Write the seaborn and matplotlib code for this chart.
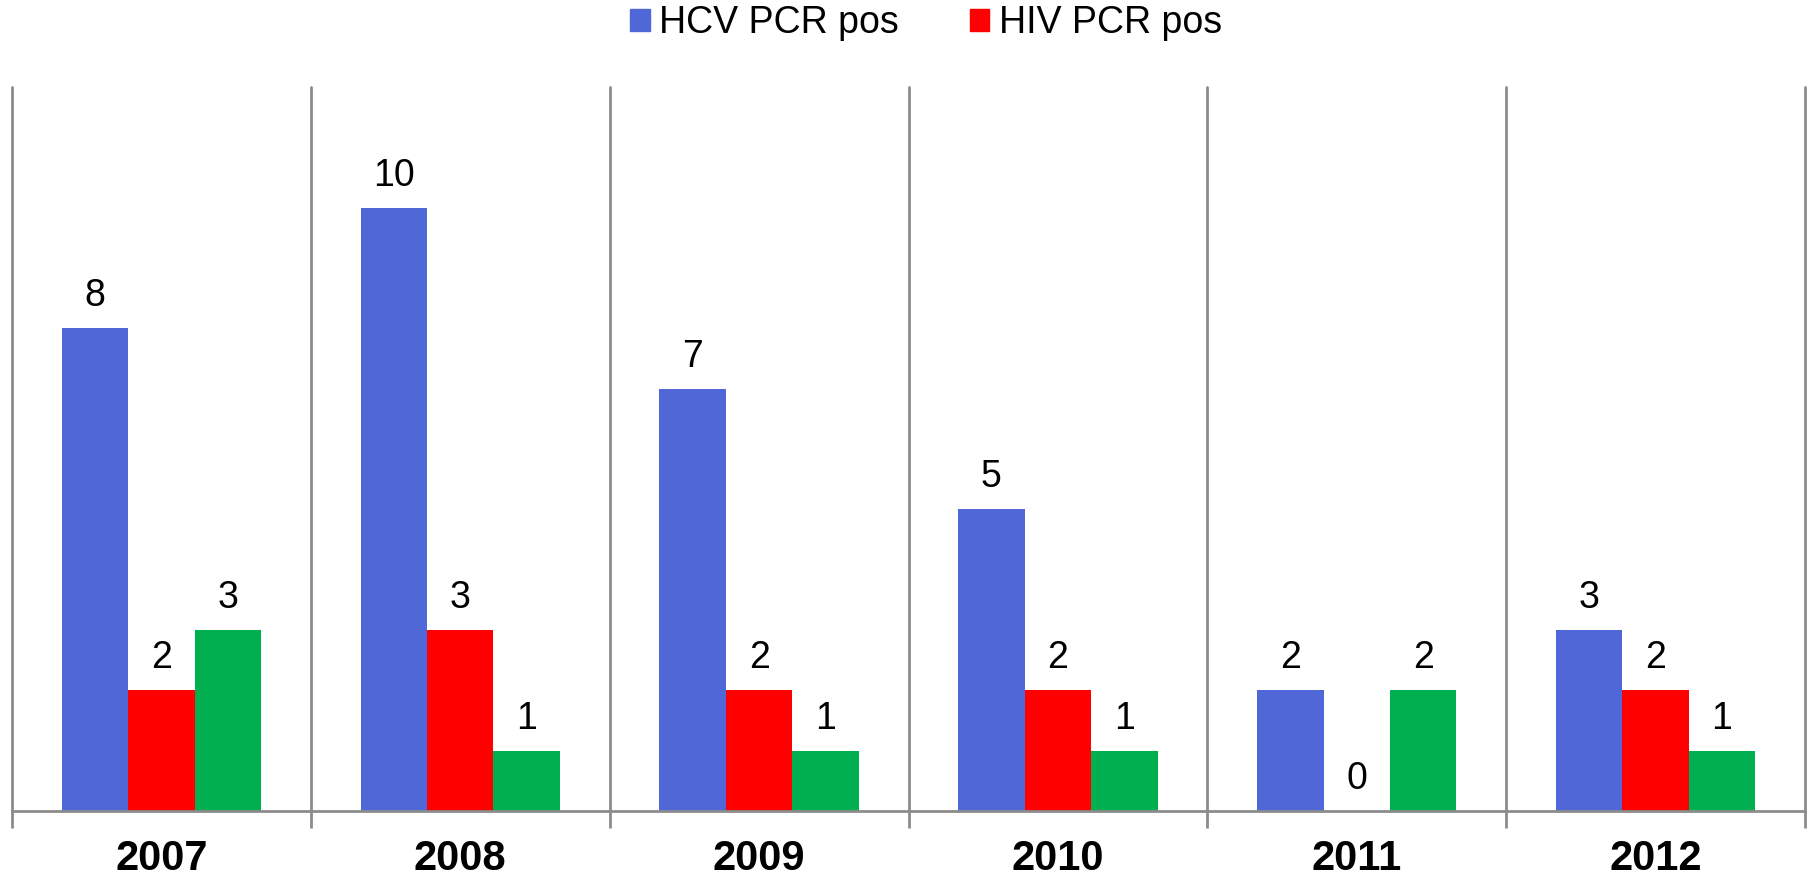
import matplotlib
matplotlib.use("Agg")
import matplotlib.pyplot as plt
import matplotlib.patches as mpatches
import numpy as np
import pandas as pd
import seaborn as sns

# Data
years = ["2007", "2008", "2009", "2010", "2011", "2012"]
hcv = [8, 10, 7, 5, 2, 3]
hiv = [2, 3, 2, 2, 0, 2]
other = [3, 1, 1, 1, 2, 1]
series = ["HCV PCR pos", "HIV PCR pos", "Other"]
colors = ["#5067D8", "#FF0000", "#00B050"]

df = pd.DataFrame({
    "Year": years * 3,
    "Count": hcv + hiv + other,
    "Series": [series[0]] * 6 + [series[1]] * 6 + [series[2]] * 6,
})

sns.set_theme(style="white")
plt.rcParams["font.family"] = ["Liberation Sans", "DejaVu Sans"]
plt.rcParams["text.color"] = "black"
plt.rcParams["xtick.color"] = "black"

fig = plt.figure(figsize=(18.1, 8.77), dpi=100)
ax = fig.add_axes([12 / 1810, 66 / 877, 1793 / 1810, 724 / 877])

sns.barplot(data=df, x="Year", y="Count", hue="Series", palette=colors,
            width=0.667, gap=0, saturation=1, edgecolor="none",
            legend=False, ax=ax)

for cont in ax.containers:
    ax.bar_label(cont, padding=10, fontsize=27, color="black")

ax.set_ylim(0, 12)
ax.set_xlim(-0.5, 5.5)
ax.set_yticks([])
ax.set_xlabel("")
ax.set_ylabel("")

# category separators
for x in np.arange(-0.5, 6):
    ax.axvline(x, color="#8C8C8C", linewidth=2, clip_on=False, zorder=0)
ax.set_xticks(np.arange(-0.5, 6), minor=True)
ax.tick_params(axis="x", which="minor", length=12, width=2, color="#8C8C8C",
               direction="out", bottom=True)
ax.tick_params(axis="x", which="major", length=0, pad=20, labelsize=30,
               labelcolor="black")
for lbl in ax.get_xticklabels():
    lbl.set_fontweight("bold")

for s in ["top", "right", "left"]:
    ax.spines[s].set_visible(False)
ax.spines["bottom"].set_color("#8C8C8C")
ax.spines["bottom"].set_linewidth(2)

handles = [mpatches.Patch(color=colors[0], label=series[0]),
           mpatches.Patch(color=colors[1], label=series[1])]
fig.legend(handles=handles, loc="center", bbox_to_anchor=(926 / 1810, 1 - 23 / 877),
           ncol=2, frameon=False, fontsize=27, handlelength=0.52, handleheight=0.52,
           handletextpad=0.25, columnspacing=1.9)

plt.savefig("out.png", dpi=100)
plt.close()
